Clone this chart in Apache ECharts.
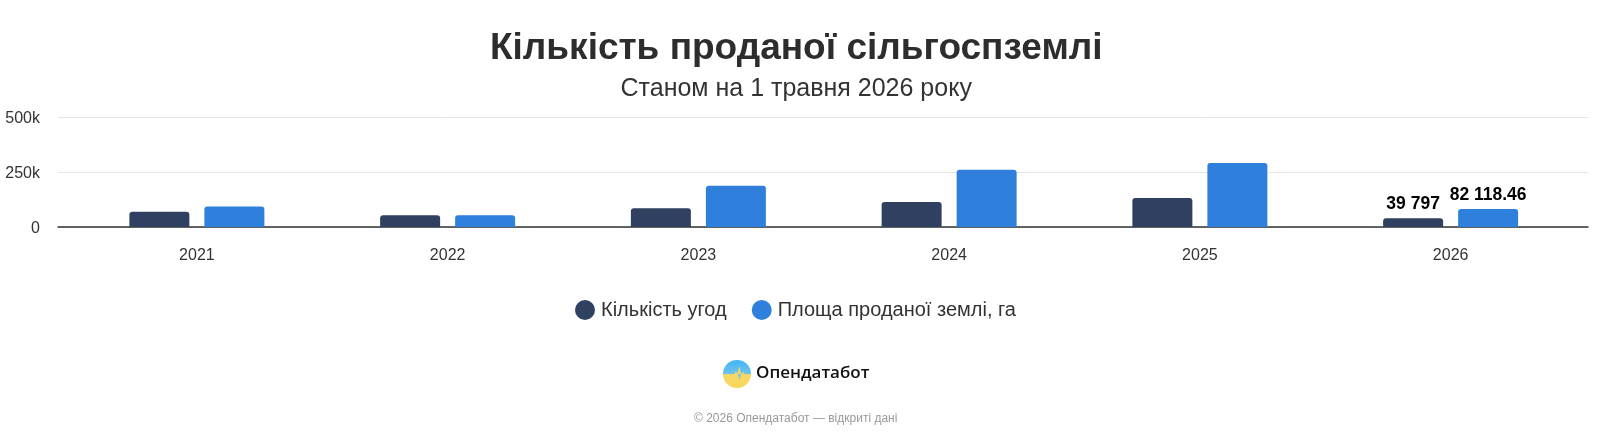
<!DOCTYPE html>
<html><head><meta charset="utf-8">
<style>html,body{margin:0;padding:0;background:#fff}#c{width:1598px;height:439px}</style>
<script src="https://cdn.jsdelivr.net/npm/echarts@6/dist/echarts.min.js"></script>
</head><body><div id="c"></div>
<script>
const years = ['2021','2022','2023','2024','2025','2026'];
const deals = [70000,53000,85000,114000,132000,39797];
const area = [93000,53000,188000,261000,292000,82118.46];
const yTicks = {0:'0',250000:'250k',500000:'500k'};
const FONT = '"Liberation Sans", Arial, sans-serif';
const labelled = years.length - 1;
const fmt = v => { const [a,b] = String(v).split('.'); return a.replace(/\B(?=(\d{3})+$)/g,' ') + (b ? '.'+b : ''); };
const items = arr => arr.map((v,i) => i === labelled ? {value:v,label:{show:true}} : v);
const barSeries = (name,color,data) => ({
  name,type:'bar',xAxisIndex:1,yAxisIndex:1,data:items(data),barWidth:60,barGap:'25%',
  itemStyle:{color,borderRadius:[3,3,0,0]},
  label:{show:false,position:'top',distance:5,color:'#000',fontFamily:FONT,fontWeight:'bold',fontSize:17.5,
    textBorderColor:'#fff',textBorderWidth:2,formatter:p=>fmt(p.value)}
});
const chart = echarts.init(document.getElementById('c'),null,{renderer:'canvas'});
chart.setOption({
  animation:false,
  title:[
    {text:'Кількість проданої сільгоспземлі',left:485,top:25,textStyle:{fontFamily:FONT,fontWeight:'bold',fontSize:37,color:'#2d2d2d'}},
    {text:'Станом на 1 травня 2026 року',left:615.5,top:72,textStyle:{fontFamily:FONT,fontWeight:'normal',fontSize:25,color:'#333'}},
    {text:'© 2026 Опендатабот — відкриті дані',left:689,top:408,textStyle:{fontFamily:FONT,fontWeight:'normal',fontSize:12,color:'#999'}}
  ],
  legend:{data:['Кількість угод','Площа проданої землі, га'],left:570,top:295,icon:'circle',itemWidth:20,itemHeight:20,itemGap:25,
    textStyle:{fontFamily:FONT,fontSize:20,color:'#333',padding:[0,0,0,1]}},
  grid:[
    {left:58,right:10,top:117.3,height:109.7},
    {left:71.5,right:22,top:117.3,height:109.7}
  ],
  xAxis:[
    {gridIndex:0,type:'category',data:years,axisLine:{lineStyle:{color:'#333',width:1.5}},axisTick:{show:false},axisLabel:{show:false}},
    {gridIndex:1,type:'category',data:years,axisLine:{show:false},axisTick:{show:false},
      axisLabel:{margin:21,fontFamily:FONT,fontSize:16,color:'#333'}}
  ],
  yAxis:[
    {gridIndex:0,type:'value',min:0,max:500000,interval:250000,axisLine:{show:false},axisTick:{show:false},
      splitLine:{lineStyle:{color:'#e6e6e6',width:1}},
      axisLabel:{margin:18,fontFamily:FONT,fontSize:16,color:'#333',formatter:v=>'{t|'+yTicks[v]+'}',
        rich:{t:{fontFamily:FONT,fontSize:16,color:'#333',padding:[3,0,0,0]}}}},
    {gridIndex:1,type:'value',min:0,max:500000,interval:250000,axisLine:{show:false},axisTick:{show:false},splitLine:{show:false},axisLabel:{show:false}}
  ],
  series:[
    barSeries('Кількість угод','#2f4060',deals),
    barSeries('Площа проданої землі, га','#2e80dc',area)
  ],
  graphic:[
    {type:'group',left:723,top:360,children:[
      {type:'circle',shape:{cx:14,cy:14,r:14},style:{fill:new echarts.graphic.LinearGradient(0,0,0,1,[
        {offset:0,color:'#3fb4f8'},{offset:0.5,color:'#6fc3ea'},{offset:0.52,color:'#f5d868'},{offset:1,color:'#fad65a'}])}},
      {type:'polygon',shape:{points:[[1,14.5],[11,14.5],[13,11],[14.5,14],[16.5,6],[18,14.5],[20,12],[22,14.5],[27,14.5],[27,15.5],[1,15.5]]},style:{fill:'#f5d868'}},
      {type:'polygon',shape:{points:[[15,14],[18,14],[16.5,20]]},style:{fill:'#6fc3ea'}},
      {type:'text',style:{x:33,y:13,text:'Опендатабот',verticalAlign:'middle',font:'600 17px "Open Sans", "Noto Sans", sans-serif',fill:'#111'}}
    ]}
  ]
});
</script></body></html>
